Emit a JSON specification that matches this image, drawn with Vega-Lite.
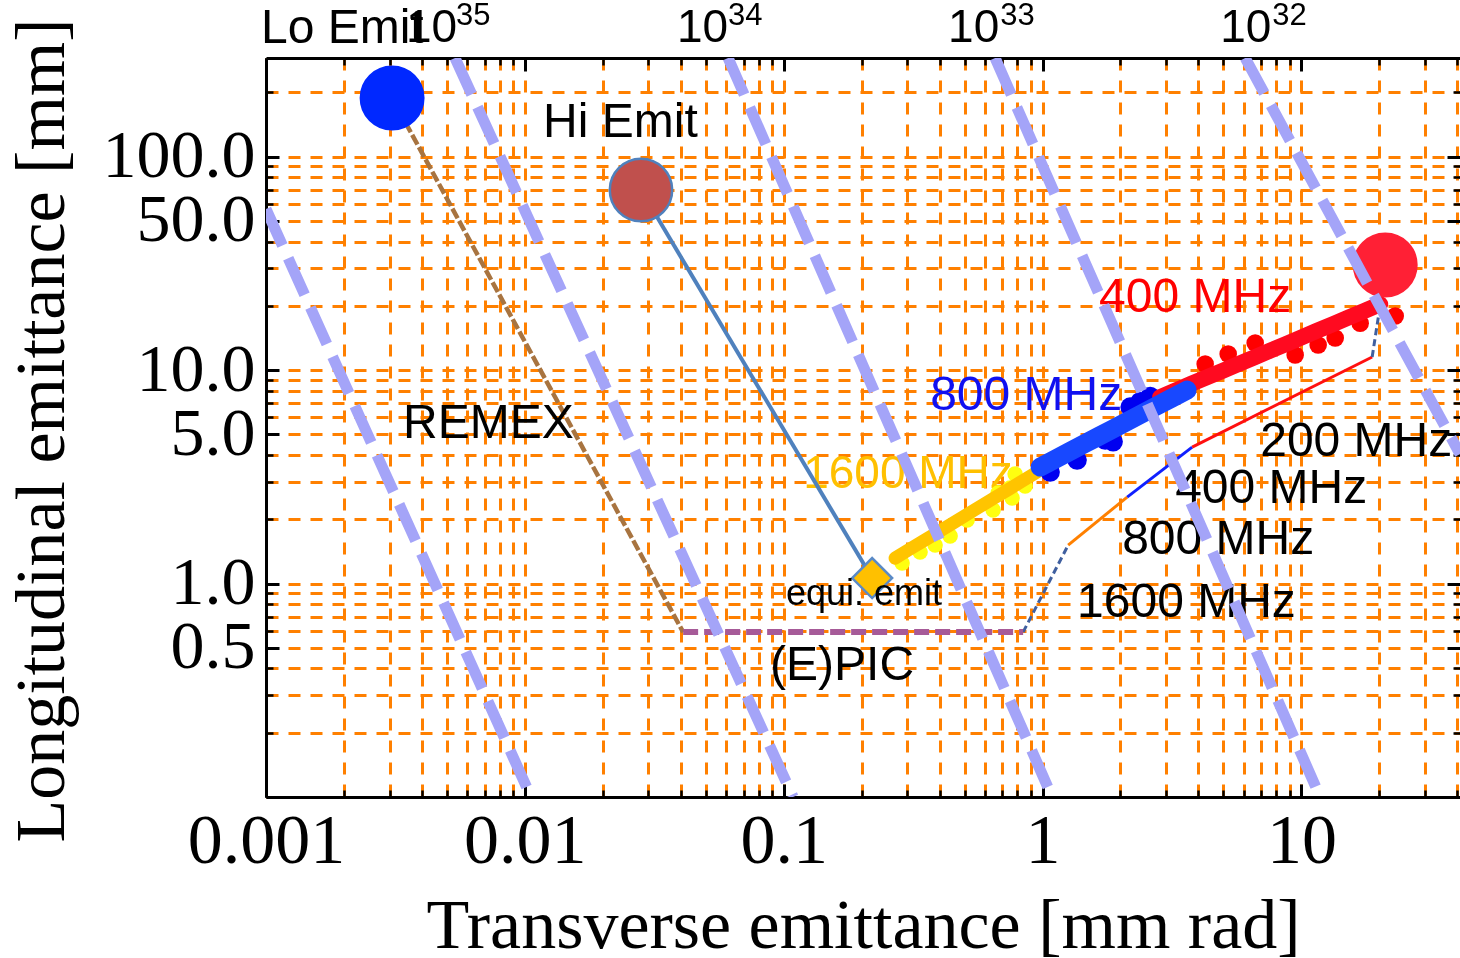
{
  "$schema": "https://vega.github.io/schema/vega-lite/v6.json",
  "width": 1194,
  "height": 739,
  "autosize": {"type": "none"},
  "padding": {"left": 266, "top": 58, "right": 0, "bottom": 161},
  "background": "white",
  "config": {"view": {"stroke": null}},
  "datasets": {
    "lumi": [
      {"L": "1e36", "x": 0.001, "y": 56.87}, {"L": "1e36", "x": 0.01057, "y": 0.1},
      {"L": "1e35", "x": 0.005374, "y": 290}, {"L": "1e35", "x": 0.1087, "y": 0.1},
      {"L": "1e34", "x": 0.06099, "y": 290}, {"L": "1e34", "x": 1.089, "y": 0.1},
      {"L": "1e33", "x": 0.6559, "y": 290}, {"L": "1e33", "x": 11.82, "y": 0.1},
      {"L": "1e32", "x": 6.065, "y": 290}, {"L": "1e32", "x": 41.0, "y": 4.044}
    ],
    "tracks": [
      {"seg": "800 MHz", "x": 1.256, "y": 1.514}, {"seg": "800 MHz", "x": 2.123, "y": 2.542},
      {"seg": "400 MHz", "x": 2.123, "y": 2.542}, {"seg": "400 MHz", "x": 3.785, "y": 4.36},
      {"seg": "200 MHz", "x": 3.785, "y": 4.36}, {"seg": "200 MHz", "x": 18.77, "y": 11.52}
    ],
    "dashed": [
      {"part": "a", "x": 0.8414, "y": 0.5923}, {"part": "a", "x": 1.256, "y": 1.514},
      {"part": "b", "x": 18.77, "y": 11.52}, {"part": "b", "x": 20.16, "y": 20.18}
    ],
    "remex": [{"x": 0.00307, "y": 188.4}, {"x": 0.04088, "y": 0.5923}],
    "epic": [{"x": 0.04088, "y": 0.5923}, {"x": 0.8414, "y": 0.5923}],
    "hiemit": [{"x": 0.0281, "y": 69.8}, {"x": 0.2196, "y": 1.061}],
    "core": [
      {"f": "1600 MHz", "x": 0.2694, "y": 1.316}, {"f": "1600 MHz", "x": 0.3051, "y": 1.443},
      {"f": "1600 MHz", "x": 0.3456, "y": 1.581}, {"f": "1600 MHz", "x": 0.395, "y": 1.742},
      {"f": "1600 MHz", "x": 0.4474, "y": 1.91}, {"f": "1600 MHz", "x": 0.5068, "y": 2.094},
      {"f": "1600 MHz", "x": 0.5739, "y": 2.295}, {"f": "1600 MHz", "x": 0.6502, "y": 2.518},
      {"f": "1600 MHz", "x": 0.7428, "y": 2.771}, {"f": "1600 MHz", "x": 0.8414, "y": 3.038},
      {"f": "1600 MHz", "x": 0.953, "y": 3.33},
      {"f": "400 MHz", "x": 2.848, "y": 7.478}, {"f": "400 MHz", "x": 3.274, "y": 8.03},
      {"f": "400 MHz", "x": 3.764, "y": 8.636}, {"f": "400 MHz", "x": 4.329, "y": 9.271},
      {"f": "400 MHz", "x": 4.983, "y": 9.954}, {"f": "400 MHz", "x": 5.729, "y": 10.7},
      {"f": "400 MHz", "x": 6.588, "y": 11.49}, {"f": "400 MHz", "x": 7.574, "y": 12.34},
      {"f": "400 MHz", "x": 8.711, "y": 13.25}, {"f": "400 MHz", "x": 10.02, "y": 14.24},
      {"f": "400 MHz", "x": 11.52, "y": 15.3}, {"f": "400 MHz", "x": 13.26, "y": 16.44},
      {"f": "400 MHz", "x": 15.25, "y": 17.65}, {"f": "400 MHz", "x": 17.53, "y": 18.96},
      {"f": "400 MHz", "x": 20.16, "y": 20.39},
      {"f": "800 MHz", "x": 0.9788, "y": 3.514}, {"f": "800 MHz", "x": 1.116, "y": 3.818},
      {"f": "800 MHz", "x": 1.271, "y": 4.15}, {"f": "800 MHz", "x": 1.449, "y": 4.51},
      {"f": "800 MHz", "x": 1.652, "y": 4.899}, {"f": "800 MHz", "x": 1.883, "y": 5.324},
      {"f": "800 MHz", "x": 2.145, "y": 5.785}, {"f": "800 MHz", "x": 2.445, "y": 6.287},
      {"f": "800 MHz", "x": 2.787, "y": 6.832}, {"f": "800 MHz", "x": 3.176, "y": 7.423},
      {"f": "800 MHz", "x": 3.62, "y": 8.066}
    ],
    "blobs": [
      {"f": "1600 MHz", "x": 0.3365, "y": 1.404}, {"f": "1600 MHz", "x": 0.3846, "y": 1.514},
      {"f": "1600 MHz", "x": 0.4395, "y": 1.669}, {"f": "1600 MHz", "x": 0.5114, "y": 1.984},
      {"f": "1600 MHz", "x": 0.6443, "y": 2.21}, {"f": "1600 MHz", "x": 0.7628, "y": 2.515},
      {"f": "1600 MHz", "x": 0.6735, "y": 2.655}, {"f": "1600 MHz", "x": 0.7494, "y": 2.802},
      {"f": "1600 MHz", "x": 0.8567, "y": 2.863}, {"f": "1600 MHz", "x": 0.7834, "y": 3.258},
      {"f": "1600 MHz", "x": 0.2867, "y": 1.247},
      {"f": "400 MHz", "x": 4.249, "y": 10.68}, {"f": "400 MHz", "x": 5.214, "y": 11.89},
      {"f": "400 MHz", "x": 6.63, "y": 13.39}, {"f": "400 MHz", "x": 9.462, "y": 11.77},
      {"f": "400 MHz", "x": 11.61, "y": 13.11}, {"f": "400 MHz", "x": 13.51, "y": 14.14},
      {"f": "400 MHz", "x": 16.87, "y": 16.58}, {"f": "400 MHz", "x": 23.04, "y": 17.92},
      {"f": "800 MHz", "x": 2.383, "y": 7.117}, {"f": "800 MHz", "x": 2.18, "y": 6.714},
      {"f": "800 MHz", "x": 1.874, "y": 4.613}, {"f": "800 MHz", "x": 1.746, "y": 4.702},
      {"f": "800 MHz", "x": 1.36, "y": 3.79}, {"f": "800 MHz", "x": 1.07, "y": 3.33},
      {"f": "800 MHz", "x": 2.605, "y": 7.528}
    ],
    "beams": [
      {"name": "Lo Emit", "x": 0.00307, "y": 188.4},
      {"name": "Hi Emit", "x": 0.0281, "y": 69.8},
      {"name": "Final", "x": 21.08, "y": 31.08}
    ],
    "equi": [{"x": 0.2196, "y": 1.061}],
    "labels": [
      {"text": "Lo Emit", "x": 0.000956, "y": 341.0},
      {"text": "Hi Emit", "x": 0.01176, "y": 123.7},
      {"text": "REMEX", "x": 0.003383, "y": 4.805},
      {"text": "(E)PIC", "x": 0.08857, "y": 0.3529},
      {"text": "200 MHz", "x": 6.932, "y": 3.957},
      {"text": "400 MHz", "x": 3.254, "y": 2.383},
      {"text": "800 MHz", "x": 2.03, "y": 1.374},
      {"text": "1600 MHz", "x": 1.36, "y": 0.6965}
    ],
    "bases": [
      {"text": "10", "x": 0.003475, "y": 344.7},
      {"text": "10", "x": 0.03872, "y": 344.7},
      {"text": "10", "x": 0.4317, "y": 344.7},
      {"text": "10", "x": 4.856, "y": 344.7}
    ],
    "exps": [
      {"text": "35", "x": 0.005422, "y": 414},
      {"text": "34", "x": 0.06099, "y": 414},
      {"text": "33", "x": 0.6858, "y": 414},
      {"text": "32", "x": 7.712, "y": 414}
    ],
    "colorlabels": [
      {"text": "800 MHz", "x": 0.3679, "y": 6.5},
      {"text": "400 MHz", "x": 1.654, "y": 18.72}
    ],
    "goldlabel": [{"text": "1600 MHz", "x": 0.1189, "y": 2.802}],
    "equilabel": [{"text": "equi. emit", "x": 0.1021, "y": 0.7925}]
  },
  "layer": [
    {
      "data": {"name": "goldlabel"},
      "mark": {"type": "text", "align": "left", "baseline": "alphabetic", "font": "Liberation Sans", "fontSize": 46, "color": "#FFC000"},
      "encoding": {
        "x": {"field": "x", "type": "quantitative", "scale": {"type": "log", "domain": [0.001, 41], "nice": false},
          "axis": {"orient": "bottom", "offset": 0, "values": [0.001,0.002,0.003,0.004,0.005,0.006,0.007,0.008,0.009,0.01,0.02,0.03,0.04,0.05,0.06,0.07,0.08,0.09,0.1,0.2,0.3,0.4,0.5,0.6,0.7,0.8,0.9,1,2,3,4,5,6,7,8,9,10,20,30,40],
            "labels": false, "ticks": true, "tickSize": -7, "tickWidth": 2.5, "tickColor": "black", "domain": false,
            "grid": true, "gridColor": "#FF8000", "gridDash": [12, 10], "gridWidth": 3, "gridOpacity": 1, "title": null}},
        "y": {"field": "y", "type": "quantitative", "scale": {"type": "log", "domain": [0.1, 290], "nice": false},
          "axis": {"orient": "left", "offset": 0, "values": [0.1,0.2,0.3,0.4,0.5,0.6,0.7,0.8,0.9,1,2,3,4,5,6,7,8,9,10,20,30,40,50,60,70,80,90,100,200],
            "labels": false, "ticks": true, "tickSize": -7, "tickWidth": 2.5, "tickColor": "black", "domain": false,
            "grid": true, "gridColor": "#FF8000", "gridDash": [12, 10], "gridWidth": 3, "gridOpacity": 1, "title": null}},
        "text": {"field": "text"}
      }
    },
    {
      "data": {"name": "tracks"},
      "mark": {"type": "line", "strokeWidth": 3},
      "encoding": {
        "x": {"field": "x", "type": "quantitative", "scale": {"type": "log", "domain": [0.001, 41], "nice": false},
          "axis": {"orient": "bottom", "offset": 0, "values": [0.001, 0.01, 0.1, 1, 10], "format": "~g",
            "labelFont": "Liberation Serif", "labelFontSize": 70, "labelColor": "black", "labelPadding": 23,
            "labelFlush": false, "labelOverlap": false,
            "ticks": true, "tickSize": -13, "tickWidth": 3, "tickColor": "black",
            "domain": true, "domainWidth": 3, "domainColor": "black", "grid": false,
            "title": "Transverse emittance [mm rad]", "titleFont": "Liberation Serif", "titleFontSize": 70,
            "titleFontWeight": "normal", "titleColor": "black", "titleY": 150, "titleBaseline": "alphabetic"}},
        "y": {"field": "y", "type": "quantitative", "scale": {"type": "log", "domain": [0.1, 290], "nice": false},
          "axis": {"orient": "left", "offset": 0, "values": [0.5, 1, 5, 10, 50, 100], "format": ".1f",
            "labelFont": "Liberation Serif", "labelFontSize": 68, "labelColor": "black", "labelPadding": 24,
            "labelFlush": false, "labelOverlap": false,
            "ticks": true, "tickSize": -13, "tickWidth": 3, "tickColor": "black",
            "domain": true, "domainWidth": 3, "domainColor": "black", "grid": false,
            "title": "Longitudinal emittance [mm]", "titleFont": "Liberation Serif", "titleFontSize": 70,
            "titleFontWeight": "normal", "titleColor": "black", "titleX": -203, "titleY": 372,
            "titleBaseline": "alphabetic", "titleAlign": "center", "titleAngle": -90}},
        "color": {"field": "seg", "type": "nominal", "legend": null,
          "scale": {"domain": ["800 MHz", "400 MHz", "200 MHz"], "range": ["#FF8000", "#1020FF", "#FF1010"]}},
        "detail": {"field": "seg"}
      }
    },
    {
      "data": {"name": "dashed"},
      "mark": {"type": "line", "strokeWidth": 3, "color": "#3F5F9F", "strokeDash": [7, 4]},
      "encoding": {
        "x": {"field": "x", "type": "quantitative", "scale": {"type": "log", "domain": [0.001, 41], "nice": false}, "axis": null},
        "y": {"field": "y", "type": "quantitative", "scale": {"type": "log", "domain": [0.1, 290], "nice": false}, "axis": null},
        "detail": {"field": "part"}
      }
    },
    {
      "data": {"name": "remex"},
      "mark": {"type": "line", "strokeWidth": 4.5, "color": "#A87440", "strokeDash": [11, 3]},
      "encoding": {
        "x": {"field": "x", "type": "quantitative", "scale": {"type": "log", "domain": [0.001, 41], "nice": false}, "axis": null},
        "y": {"field": "y", "type": "quantitative", "scale": {"type": "log", "domain": [0.1, 290], "nice": false}, "axis": null}
      }
    },
    {
      "data": {"name": "epic"},
      "mark": {"type": "line", "strokeWidth": 6, "color": "#A65A98", "strokeDash": [15, 6]},
      "encoding": {
        "x": {"field": "x", "type": "quantitative", "scale": {"type": "log", "domain": [0.001, 41], "nice": false}, "axis": null},
        "y": {"field": "y", "type": "quantitative", "scale": {"type": "log", "domain": [0.1, 290], "nice": false}, "axis": null}
      }
    },
    {
      "data": {"name": "hiemit"},
      "mark": {"type": "line", "strokeWidth": 4, "color": "#4F81BD"},
      "encoding": {
        "x": {"field": "x", "type": "quantitative", "scale": {"type": "log", "domain": [0.001, 41], "nice": false}, "axis": null},
        "y": {"field": "y", "type": "quantitative", "scale": {"type": "log", "domain": [0.1, 290], "nice": false}, "axis": null}
      }
    },
    {
      "data": {"name": "blobs"},
      "mark": {"type": "circle", "opacity": 1},
      "encoding": {
        "x": {"field": "x", "type": "quantitative", "scale": {"type": "log", "domain": [0.001, 41], "nice": false},
          "axis": {"orient": "top", "offset": 0, "values": [0.001,0.002,0.003,0.004,0.005,0.006,0.007,0.008,0.009,0.01,0.02,0.03,0.04,0.05,0.06,0.07,0.08,0.09,0.1,0.2,0.3,0.4,0.5,0.6,0.7,0.8,0.9,1,2,3,4,5,6,7,8,9,10,20,30,40],
            "labels": false, "ticks": true, "tickSize": -7, "tickWidth": 2.5, "tickColor": "black", "domain": false, "grid": false, "title": null}},
        "y": {"field": "y", "type": "quantitative", "scale": {"type": "log", "domain": [0.1, 290], "nice": false},
          "axis": {"orient": "right", "offset": 0, "values": [0.1,0.2,0.3,0.4,0.5,0.6,0.7,0.8,0.9,1,2,3,4,5,6,7,8,9,10,20,30,40,50,60,70,80,90,100,200],
            "labels": false, "ticks": true, "tickSize": -7, "tickWidth": 2.5, "tickColor": "black", "domain": false, "grid": false, "title": null}},
        "color": {"field": "f", "type": "nominal", "legend": null,
          "scale": {"domain": ["1600 MHz", "400 MHz", "800 MHz"], "range": ["#FFFF10", "#FF0000", "#0000F0"]}},
        "size": {"field": "f", "type": "ordinal", "legend": null,
          "scale": {"domain": ["1600 MHz", "400 MHz", "800 MHz"], "range": [240, 380, 330]}}
      }
    },
    {
      "data": {"name": "core"},
      "mark": {"type": "line", "strokeCap": "round", "strokeJoin": "round"},
      "encoding": {
        "x": {"field": "x", "type": "quantitative", "scale": {"type": "log", "domain": [0.001, 41], "nice": false}, "axis": null},
        "y": {"field": "y", "type": "quantitative", "scale": {"type": "log", "domain": [0.1, 290], "nice": false}, "axis": null},
        "color": {"field": "f", "type": "nominal", "legend": null,
          "scale": {"domain": ["1600 MHz", "400 MHz", "800 MHz"], "range": ["#FFC400", "#FF0A20", "#1848FF"]}},
        "size": {"field": "f", "type": "ordinal", "legend": null,
          "scale": {"domain": ["1600 MHz", "400 MHz", "800 MHz"], "range": [13, 19, 17]}},
        "detail": {"field": "f"}
      }
    },
    {
      "data": {"name": "beams"},
      "mark": {"type": "circle", "size": 3900, "opacity": 1, "strokeWidth": 2.5},
      "encoding": {
        "x": {"field": "x", "type": "quantitative", "scale": {"type": "log", "domain": [0.001, 41], "nice": false},
          "axis": {"orient": "top", "offset": 0, "values": [0.001, 0.01, 0.1, 1, 10],
            "labels": false, "ticks": true, "tickSize": -13, "tickWidth": 3, "tickColor": "black",
            "domain": true, "domainWidth": 3, "domainColor": "black", "grid": false, "title": null}},
        "y": {"field": "y", "type": "quantitative", "scale": {"type": "log", "domain": [0.1, 290], "nice": false},
          "axis": {"orient": "right", "offset": 0, "values": [0.5, 1, 5, 10, 50, 100],
            "labels": false, "ticks": true, "tickSize": -13, "tickWidth": 3, "tickColor": "black",
            "domain": false, "grid": false, "title": null}},
        "fill": {"field": "name", "type": "nominal", "legend": null,
          "scale": {"domain": ["Lo Emit", "Hi Emit", "Final"], "range": ["#0028FF", "#C0504D", "#FF2035"]}},
        "stroke": {"field": "name", "type": "nominal", "legend": null,
          "scale": {"domain": ["Lo Emit", "Hi Emit", "Final"], "range": ["#0028FF", "#4F81BD", "#FF2035"]}}
      }
    },
    {
      "data": {"name": "equi"},
      "mark": {"type": "point", "shape": "diamond", "size": 1600, "filled": true, "fill": "#FFC000", "stroke": "#5A8AC6", "strokeWidth": 2.5, "opacity": 1},
      "encoding": {
        "x": {"field": "x", "type": "quantitative", "scale": {"type": "log", "domain": [0.001, 41], "nice": false}, "axis": null},
        "y": {"field": "y", "type": "quantitative", "scale": {"type": "log", "domain": [0.1, 290], "nice": false}, "axis": null}
      }
    },
    {
      "data": {"name": "labels"},
      "mark": {"type": "text", "align": "left", "baseline": "alphabetic", "font": "Liberation Sans", "fontSize": 48, "color": "black"},
      "encoding": {
        "x": {"field": "x", "type": "quantitative", "scale": {"type": "log", "domain": [0.001, 41], "nice": false}, "axis": null},
        "y": {"field": "y", "type": "quantitative", "scale": {"type": "log", "domain": [0.1, 290], "nice": false}, "axis": null},
        "text": {"field": "text"}
      }
    },
    {
      "data": {"name": "bases"},
      "mark": {"type": "text", "align": "left", "baseline": "alphabetic", "font": "Liberation Sans", "fontSize": 46, "color": "black"},
      "encoding": {
        "x": {"field": "x", "type": "quantitative", "scale": {"type": "log", "domain": [0.001, 41], "nice": false}, "axis": null},
        "y": {"field": "y", "type": "quantitative", "scale": {"type": "log", "domain": [0.1, 290], "nice": false}, "axis": null},
        "text": {"field": "text"}
      }
    },
    {
      "data": {"name": "exps"},
      "mark": {"type": "text", "align": "left", "baseline": "alphabetic", "font": "Liberation Sans", "fontSize": 31, "color": "black"},
      "encoding": {
        "x": {"field": "x", "type": "quantitative", "scale": {"type": "log", "domain": [0.001, 41], "nice": false}, "axis": null},
        "y": {"field": "y", "type": "quantitative", "scale": {"type": "log", "domain": [0.1, 290], "nice": false}, "axis": null},
        "text": {"field": "text"}
      }
    },
    {
      "data": {"name": "colorlabels"},
      "mark": {"type": "text", "align": "left", "baseline": "alphabetic", "font": "Liberation Sans", "fontSize": 48},
      "encoding": {
        "x": {"field": "x", "type": "quantitative", "scale": {"type": "log", "domain": [0.001, 41], "nice": false}, "axis": null},
        "y": {"field": "y", "type": "quantitative", "scale": {"type": "log", "domain": [0.1, 290], "nice": false}, "axis": null},
        "text": {"field": "text"},
        "color": {"field": "text", "type": "nominal", "legend": null,
          "scale": {"domain": ["800 MHz", "400 MHz"], "range": ["#1010F0", "#FF0000"]}}
      }
    },
    {
      "data": {"name": "equilabel"},
      "mark": {"type": "text", "align": "left", "baseline": "alphabetic", "font": "Liberation Sans", "fontSize": 36, "color": "black"},
      "encoding": {
        "x": {"field": "x", "type": "quantitative", "scale": {"type": "log", "domain": [0.001, 41], "nice": false}, "axis": null},
        "y": {"field": "y", "type": "quantitative", "scale": {"type": "log", "domain": [0.1, 290], "nice": false}, "axis": null},
        "text": {"field": "text"}
      }
    },
    {
      "data": {"name": "lumi"},
      "mark": {"type": "line", "strokeWidth": 11, "color": "#A4A4F8", "strokeDash": [40, 14], "clip": true, "blend": "multiply"},
      "encoding": {
        "x": {"field": "x", "type": "quantitative", "scale": {"type": "log", "domain": [0.001, 41], "nice": false}, "axis": null},
        "y": {"field": "y", "type": "quantitative", "scale": {"type": "log", "domain": [0.1, 290], "nice": false}, "axis": null},
        "detail": {"field": "L"}
      }
    }
  ],
  "resolve": {"axis": {"x": "independent", "y": "independent"}, "scale": {"color": "independent", "size": "independent"}}
}
